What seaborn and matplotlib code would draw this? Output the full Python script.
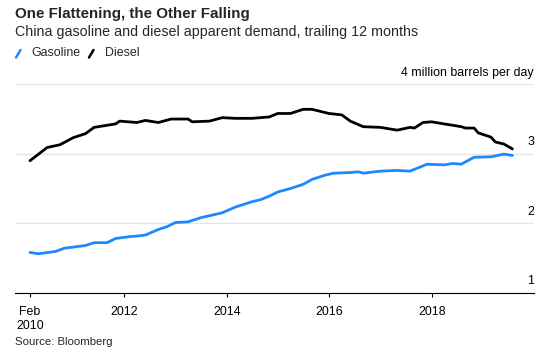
import matplotlib
matplotlib.use("Agg")
import matplotlib.pyplot as plt
from matplotlib.lines import Line2D
import seaborn as sns
import pandas as pd
import numpy as np

# ---- data (month-end points) ----
diesel_dates = ["2010-02", "2010-06", "2010-09", "2010-12", "2011-03", "2011-05", "2011-10",
                "2011-11", "2012-03", "2012-05", "2012-08", "2012-11", "2013-03", "2013-04",
                "2013-08", "2013-11", "2014-02", "2014-06", "2014-08", "2014-10", "2014-12",
                "2015-03", "2015-06", "2015-08", "2015-12", "2016-03", "2016-05", "2016-08",
                "2016-12", "2017-04", "2017-07", "2017-08", "2017-10", "2017-12", "2018-03",
                "2018-07", "2018-08", "2018-10", "2018-11", "2019-02", "2019-03", "2019-05",
                "2019-07"]
diesel_values = [2.90, 3.09, 3.13, 3.23, 3.29, 3.38, 3.43,
                 3.47, 3.45, 3.48, 3.45, 3.50, 3.50, 3.46,
                 3.47, 3.52, 3.51, 3.51, 3.52, 3.53, 3.58,
                 3.58, 3.64, 3.64, 3.58, 3.56, 3.47, 3.39,
                 3.38, 3.34, 3.38, 3.37, 3.45, 3.46, 3.43,
                 3.39, 3.37, 3.37, 3.30, 3.24, 3.17, 3.14,
                 3.07]

gasoline_dates = ["2010-02", "2010-04", "2010-08", "2010-10", "2011-03", "2011-05", "2011-08",
                  "2011-10", "2012-01", "2012-03", "2012-05", "2012-08", "2012-10", "2012-12",
                  "2013-03", "2013-06", "2013-11", "2014-02", "2014-06", "2014-08", "2014-10",
                  "2014-12", "2015-03", "2015-06", "2015-08", "2015-11", "2016-01", "2016-05",
                  "2016-07", "2016-08", "2016-12", "2017-04", "2017-07", "2017-09", "2017-11",
                  "2018-03", "2018-05", "2018-07", "2018-10", "2019-02", "2019-05", "2019-07"]
gasoline_values = [1.58, 1.56, 1.595, 1.64, 1.68, 1.72, 1.72,
                   1.78, 1.805, 1.815, 1.83, 1.91, 1.95, 2.01,
                   2.02, 2.08, 2.15, 2.23, 2.31, 2.34, 2.39,
                   2.45, 2.50, 2.56, 2.63, 2.69, 2.72, 2.73,
                   2.74, 2.72, 2.75, 2.76, 2.75, 2.80, 2.85,
                   2.84, 2.86, 2.85, 2.95, 2.956, 2.995, 2.976]

series_names = ["Gasoline", "Diesel"]
series_colors = ["#1E88FF", "#000000"]
x_tick_labels = ["Feb\n2010", "2012", "2014", "2016", "2018"]
y_ticks = [1, 2, 3, 4]
y_tick_labels = ["1", "2", "3", "4 million barrels per day"]

title = "One Flattening, the Other Falling"
subtitle = "China gasoline and diesel apparent demand, trailing 12 months"
source = "Source: Bloomberg"

# ---- build table ----
def month_end(s):
    return pd.Period(s, freq="M").to_timestamp(how="end").normalize()

df = pd.concat([
    pd.DataFrame({"date": [month_end(d) for d in gasoline_dates],
                  "value": gasoline_values, "series": "Gasoline"}),
    pd.DataFrame({"date": [month_end(d) for d in diesel_dates],
                  "value": diesel_values, "series": "Diesel"}),
], ignore_index=True)

sns.set_theme(style="white")
plt.rcParams["font.family"] = ["Liberation Sans", "DejaVu Sans"]

W, H = 554, 363
SMALL = 8.9
fig = plt.figure(figsize=(W / 100, H / 100), dpi=100)
ax = fig.add_axes([15 / W, 1 - 292.7 / H, (534 - 15) / W, (292.7 - 84.3) / H])

sns.lineplot(data=df, x="date", y="value", hue="series", hue_order=series_names,
             palette=dict(zip(series_names, series_colors)), linewidth=2.0,
             legend=False, ax=ax)

ax.set_xlim(pd.Timestamp("2009-11-13"), pd.Timestamp("2020-01-01"))
ax.set_ylim(y_ticks[0], y_ticks[-1])

# x ticks
xt = [month_end(gasoline_dates[0])] + [pd.Timestamp(f"{y}-01-01") for y in (2012, 2014, 2016, 2018)]
ax.set_xticks(xt)
ax.set_xticklabels(x_tick_labels, fontsize=SMALL, color="#000000", linespacing=1.25)
ax.tick_params(axis="x", direction="out", length=3, width=0.8, color="#000000", pad=6.3,
               bottom=True)
ax.set_xlabel("")
ax.set_ylabel("")

# y grid and labels at right above gridlines
ax.set_yticks(y_ticks)
ax.set_yticklabels([])
ax.tick_params(axis="y", length=0, left=False, right=False)
ax.grid(axis="y", color="#e6e6e6", linewidth=1.0)
ax.grid(axis="x", visible=False)
for v, lab in zip(y_ticks, y_tick_labels):
    ax.annotate(lab, xy=(1.0, v), xycoords=("axes fraction", "data"),
                xytext=(0, 8.3), textcoords="offset points",
                ha="right", va="center", fontsize=SMALL, color="#000000")

for s in ["left", "right", "top"]:
    ax.spines[s].set_visible(False)
ax.spines["bottom"].set_color("#000000")
ax.spines["bottom"].set_linewidth(0.8)
ax.set_facecolor("white")

# titles
fig.text(15 / W, 1 - 14 / H, title, fontsize=10.9, fontweight="bold", va="center", ha="left")
fig.text(15 / W, 1 - 31.7 / H, subtitle, fontsize=10.3, va="center", ha="left")

# legend (custom slashes)
leg_y = 1 - 53.5 / H
items = [(16, 31.7), (89, 105)]
for (sx, tx), name, col in zip(items, series_names, series_colors):
    fig.add_artist(Line2D([sx / W, (sx + 4.5) / W], [1 - 57.5 / H, 1 - 50 / H],
                          color=col, linewidth=1.8, transform=fig.transFigure))
    fig.text(tx / W, leg_y, name, fontsize=SMALL, va="center", ha="left")

fig.text(15 / W, 1 - 341.7 / H, source, fontsize=8.2, va="center", ha="left")

fig.savefig("out.png", dpi=100, facecolor="white")
